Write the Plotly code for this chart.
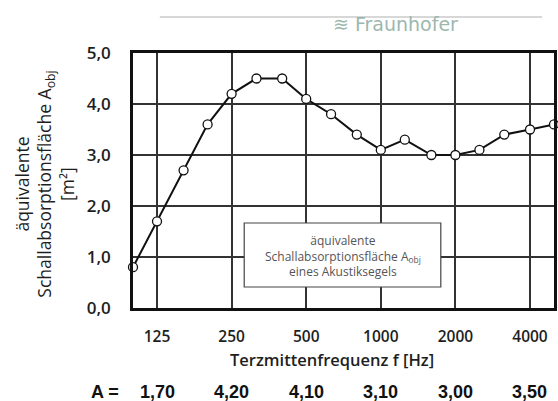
import math
import plotly.graph_objects as go

# Third-octave centre frequencies [Hz] and equivalent absorption area [m²]
freqs = [100, 125, 160, 200, 250, 315, 400, 500, 630, 800, 1000,
         1250, 1600, 2000, 2500, 3150, 4000, 5000]
a_obj = [0.8, 1.7, 2.7, 3.6, 4.2, 4.5, 4.5, 4.1, 3.8, 3.4, 3.1,
         3.3, 3.0, 3.0, 3.1, 3.4, 3.5, 3.6]

# Octave tick labels and octave-band values printed beneath the chart
octave_ticks = [125, 250, 500, 1000, 2000, 4000]
octave_labels = ["125", "250", "500", "1000", "2000", "4000"]
octave_values = ["1,70", "4,20", "4,10", "3,10", "3,00", "3,50"]

y_ticks = [0, 1, 2, 3, 4, 5]
y_labels = ["0,0", "1,0", "2,0", "3,0", "4,0", "5,0"]

W, H = 558, 401
L, R, T, B = 133, 1, 53, 93
PW, PH = W - L - R, H - T - B

def px(x):
    return (x - L) / PW

def py(y):
    return (H - B - y) / PH

fig = go.Figure()
fig.add_trace(go.Scatter(
    x=freqs, y=a_obj, mode="lines+markers",
    line=dict(color="#111111", width=2),
    marker=dict(size=9, color="white", line=dict(color="#111111", width=1.3)),
    cliponaxis=False, showlegend=False, hoverinfo="skip",
))

fig.update_layout(
    width=W, height=H,
    margin=dict(l=L, r=R, t=T, b=B),
    paper_bgcolor="white", plot_bgcolor="white",
    xaxis=dict(
        type="log", range=[2, math.log10(5000)],
        tickmode="array", tickvals=octave_ticks, ticktext=octave_labels,
        showgrid=True, gridcolor="#333333", gridwidth=1.5,
        showline=True, linecolor="#111111", linewidth=2.5, mirror=True,
        ticks="", ticklabelstandoff=13,
        tickfont=dict(family="Open Sans", size=15.5, color="#1e1e1e", weight=600),
        zeroline=False,
    ),
    yaxis=dict(
        range=[0, 5],
        tickmode="array", tickvals=y_ticks, ticktext=y_labels,
        showgrid=True, gridcolor="#333333", gridwidth=1.5,
        showline=True, linecolor="#111111", linewidth=2.5, mirror=True,
        ticks="", ticklabelstandoff=16,
        tickfont=dict(family="Open Sans", size=17, color="#1e1e1e", weight=600),
        zeroline=False,
    ),
)

# Legend-like box inside the chart
fig.add_shape(type="rect", xref="paper", yref="paper",
              x0=px(245), x1=px(443), y0=py(287), y1=py(223),
              fillcolor="white", line=dict(color="#444444", width=1.2),
              layer="above")
fig.add_annotation(xref="paper", yref="paper", x=px(344), y=py(256),
                   text="äquivalente<br>Schallabsorptionsfläche A<sub>obj</sub><br>eines Akustiksegels",
                   showarrow=False, font=dict(family="Open Sans", size=12, color="#555555"),
                   align="center", xanchor="center", yanchor="middle")

# Y axis title (three lines, rotated)
fig.add_annotation(xref="paper", yref="paper", x=px(44), y=py(184),
                   text="äquivalente<br>Schallabsorptionsfläche A<sub>obj</sub><br>[m²]",
                   textangle=-90, showarrow=False,
                   font=dict(family="Open Sans", size=17.5, color="#1e1e1e"),
                   align="center", xanchor="center", yanchor="middle")

# X axis title
fig.add_annotation(xref="paper", yref="paper", x=px(333), y=py(359),
                   text="Terzmittenfrequenz f [Hz]", showarrow=False,
                   font=dict(family="Open Sans", size=16.5, color="#1e1e1e", weight=600),
                   xanchor="center", yanchor="middle")

# Octave values row
row_font = dict(family="Liberation Sans", size=18, color="#111111", weight="bold")
fig.add_annotation(xref="paper", yref="paper", x=px(105), y=py(392),
                   text="A =", showarrow=False,
                   font=row_font, xanchor="center", yanchor="middle")
for f, v in zip(octave_ticks, octave_values):
    fig.add_annotation(xref="x", yref="paper", x=math.log10(f), y=py(392),
                       text=v, showarrow=False,
                       font=row_font, xanchor="center", yanchor="middle")

# Faint scan header elements (letterhead line and stamp logo)
fig.add_shape(type="line", xref="paper", yref="paper",
              x0=px(160), x1=px(545), y0=py(17), y1=py(17),
              line=dict(color="#b0b0b0", width=1.2))
fig.add_annotation(xref="paper", yref="paper", x=px(332), y=py(24),
                   text="≋ Fraunhofer", showarrow=False,
                   font=dict(family="DejaVu Sans", size=19, color="#9db7ae"),
                   xanchor="left", yanchor="middle")

fig.write_html("out.html", config={"displayModeBar": False},
               post_script="document.body.style.margin='0';")
